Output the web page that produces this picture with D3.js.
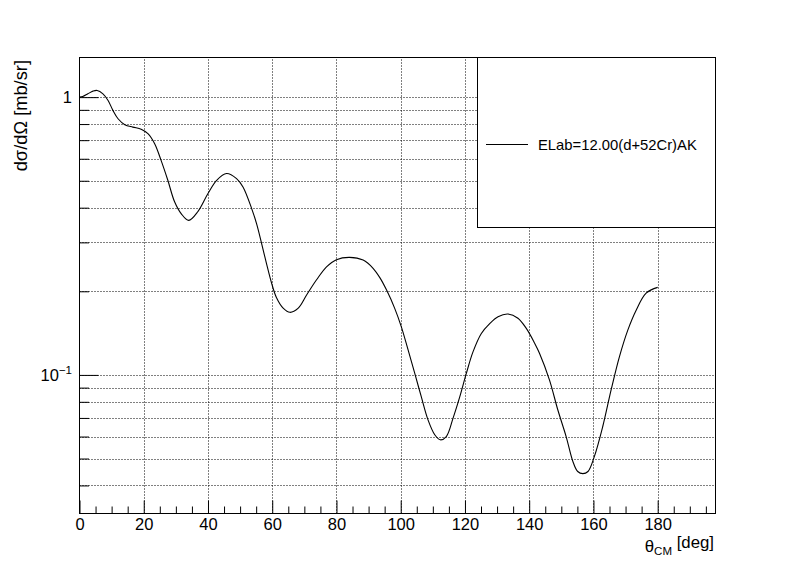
<!DOCTYPE html>
<html>
<head>
<meta charset="utf-8">
<script src="https://cdn.jsdelivr.net/npm/d3@7"></script>
<style>
  html, body { margin: 0; padding: 0; background: #fff; }
  svg { display: block; font-family: "Liberation Sans", Arial, Helvetica, sans-serif; }
</style>
</head>
<body>
<svg id="chart" width="796" height="572"></svg>
<script>
// ---- data ----
const thetaDeg = [0, 1, 2.6, 4.2, 5.5, 7.3, 8.9, 10.4, 12, 14.1, 16.6, 19.2, 21.3, 23.4, 25.4, 27.5, 29.6, 31.7, 34,
  36.9, 40, 42.7, 45.8, 48.9, 50.9, 53.6, 55.1, 56.7, 58.2, 59.8, 61.3, 63.4, 65.5, 68.1, 70.7, 73.8, 76.9, 80,
  84.1, 88.3, 91.4, 93.5, 95.6, 98.1, 100.2, 102.3, 104.4, 106.4, 108.5, 110.6, 112.3, 114.2, 116.3, 118.4,
  120.4, 122.5, 125.1, 127.7, 130.3, 133.4, 136.5, 139.1, 141.7, 143.2, 146.3, 148.9, 151.5, 153.6, 155.1,
  156.7, 158.3, 160.3, 162.9, 165.5, 168.1, 170.7, 173.3, 176.4, 180];
const dSigma = [1.0, 1.005, 1.028, 1.051, 1.057, 1.028, 0.973, 0.896, 0.836, 0.796, 0.780, 0.767, 0.739, 0.680,
  0.592, 0.502, 0.420, 0.380, 0.360, 0.388, 0.450, 0.502, 0.531, 0.509, 0.475, 0.397, 0.351, 0.297, 0.252,
  0.214, 0.190, 0.174, 0.168, 0.174, 0.194, 0.220, 0.245, 0.260, 0.265, 0.259, 0.242, 0.224, 0.202, 0.174,
  0.149, 0.123, 0.101, 0.0835, 0.0689, 0.0609, 0.0584, 0.060, 0.0699, 0.0835, 0.101, 0.121, 0.141, 0.153,
  0.162, 0.1656, 0.160, 0.147, 0.130, 0.1197, 0.096, 0.0749, 0.060, 0.0488, 0.0449, 0.0441, 0.0449, 0.0509,
  0.0652, 0.0883, 0.1164, 0.145, 0.171, 0.197, 0.2066];
const xMajorTicks = [0, 20, 40, 60, 80, 100, 120, 140, 160, 180];
const xTickLabels = ["0", "20", "40", "60", "80", "100", "120", "140", "160", "180"];
const xMinorTicks = [5, 10, 15, 25, 30, 35, 45, 50, 55, 65, 70, 75, 85, 90, 95, 105, 110, 115, 125, 130, 135,
  145, 150, 155, 165, 170, 175, 185, 190, 195];
const yMajorTicks = [0.1, 1];
const yMinorTicks = [0.04, 0.05, 0.06, 0.07, 0.08, 0.09, 0.2, 0.3, 0.4, 0.5, 0.6, 0.7, 0.8, 0.9];
const seriesName = "ELab=12.00(d+52Cr)AK";
const xDomain = [0, 198];
const yDomain = [0.0317, 1.389];

// ---- layout ----
const L = 79.5, R = 715.5, T = 57.5, B = 513.5;
const svg = d3.select("#chart");
const x = d3.scaleLinear().domain(xDomain).range([L, R]);
const y = d3.scaleLog().domain(yDomain).range([B, T]);

// grid
const grid = svg.append("g").attr("stroke", "#000").attr("stroke-width", 1).attr("stroke-dasharray", "1,2");
grid.selectAll("line.gx").data(xMajorTicks.filter(d => d > 0)).join("line")
  .attr("x1", d => Math.round(x(d)) + 0.5).attr("x2", d => Math.round(x(d)) + 0.5)
  .attr("y1", B).attr("y2", T);
grid.selectAll("line.gy").data(yMajorTicks.concat(yMinorTicks)).join("line")
  .attr("x1", L).attr("x2", R)
  .attr("y1", d => Math.round(y(d)) + 0.5).attr("y2", d => Math.round(y(d)) + 0.5);

// axes
const xAxis = d3.axisBottom(x).tickValues(xMajorTicks).tickSize(-13).tickSizeOuter(0).tickPadding(5)
  .tickFormat((d, i) => xTickLabels[i]);
const gx = svg.append("g").attr("transform", `translate(0,${B})`).call(xAxis);
const gxm = svg.append("g").attr("transform", `translate(0,${B})`)
  .call(d3.axisBottom(x).tickValues(xMinorTicks).tickSize(-7).tickSizeOuter(0).tickFormat(""));
const yAxis = d3.axisLeft(y).tickValues(yMajorTicks).tickSize(-19).tickSizeOuter(0).tickPadding(8)
  .tickFormat(d => "");
const gy = svg.append("g").attr("transform", `translate(${L},0)`).call(yAxis);
const gym = svg.append("g").attr("transform", `translate(${L},0)`)
  .call(d3.axisLeft(y).tickValues(yMinorTicks).tickSize(-9.5).tickSizeOuter(0).tickFormat(""));
[gx, gxm, gy, gym].forEach(g => {
  g.select(".domain").remove();
  g.selectAll(".tick line").attr("stroke", "#000").attr("stroke-width", 1);
});
gx.selectAll(".tick text").attr("font-size", 16.5).attr("fill", "#000")
  .attr("font-family", "Liberation Sans, Arial, sans-serif");

// y tick labels
gy.selectAll(".tick text").each(function(d) {
  const t = d3.select(this).attr("font-size", 16.5).attr("fill", "#000")
    .attr("font-family", "Liberation Sans, Arial, sans-serif").attr("x", -7.5);
  t.text(null);
  if (d === 1) {
    t.text("1");
  } else {
    const e = Math.round(Math.log10(d));
    t.append("tspan").text("10");
    t.append("tspan").attr("font-size", 11.5).attr("dy", "-0.55em").text("\u2212" + (-e));
  }
});

// frame
svg.append("rect").attr("x", L).attr("y", T).attr("width", R - L).attr("height", B - T)
  .attr("fill", "none").attr("stroke", "#000").attr("stroke-width", 1);

// curve
const pts = thetaDeg.map((t, i) => [t, dSigma[i]]);
const line = d3.line().x(d => x(d[0])).y(d => y(d[1])).curve(d3.curveCatmullRom.alpha(0.5));
svg.append("path").datum(pts).attr("d", line).attr("fill", "none").attr("stroke", "#000").attr("stroke-width", 1.1);

// legend
const lg = svg.append("g");
lg.append("rect").attr("x", 477.5).attr("y", T).attr("width", R - 477.5).attr("height", 227.5 - T)
  .attr("fill", "#fff").attr("stroke", "#000").attr("stroke-width", 1);
lg.append("line").attr("x1", 486).attr("x2", 528).attr("y1", 144.5).attr("y2", 144.5)
  .attr("stroke", "#000").attr("stroke-width", 1);
lg.append("text").attr("x", 538).attr("y", 149.5).attr("font-size", 14.8).attr("fill", "#000").text(seriesName);

// axis titles
const xt = svg.append("text").attr("x", 714).attr("y", 552).attr("text-anchor", "end")
  .attr("font-size", 16.8).attr("fill", "#000");
xt.append("tspan").text("\u03B8");
xt.append("tspan").attr("font-size", 11.5).attr("dy", "0.3em").text("CM");
xt.append("tspan").attr("dy", "-0.45em").text(" [deg]");

svg.append("text").attr("transform", "translate(27,60) rotate(-90)").attr("text-anchor", "end")
  .attr("font-size", 18.3).attr("fill", "#000").text("d\u03C3/d\u03A9 [mb/sr]");
</script>
</body>
</html>
